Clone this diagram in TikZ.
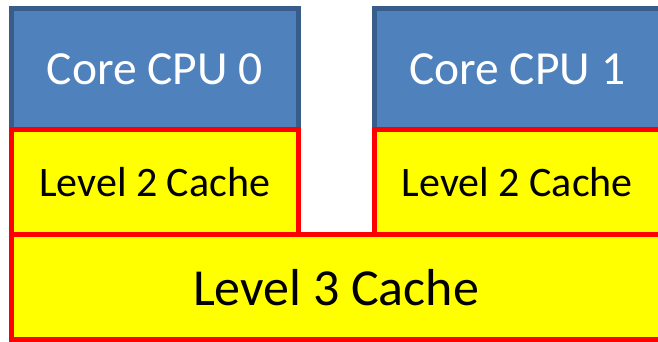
\documentclass[tikz,border=0pt]{standalone}
\usepackage{fontspec}
\setmainfont{Carlito}
\definecolor{coreblue}{HTML}{4F81BD}
\definecolor{coreedge}{HTML}{385D8A}
\definecolor{cachefill}{HTML}{FFFF00}
\definecolor{cacheedge}{HTML}{FF0000}
\begin{document}
\begin{tikzpicture}[x=1pt,y=1pt,
  block/.style={rectangle, line width=5pt, inner sep=0pt, outer sep=0pt, anchor=south west},
  corebox/.style={block, fill=coreblue, draw=coreedge, text=white, font=\fontsize{47.5}{50}\selectfont,
    minimum width=286.5pt, minimum height=121pt},
  ltwobox/.style={block, fill=cachefill, draw=cacheedge, text=black, font=\fontsize{42}{44}\selectfont,
    minimum width=286.5pt, minimum height=105pt},
  lthreebox/.style={block, fill=cachefill, draw=cacheedge, text=black, font=\fontsize{52}{54}\selectfont,
    minimum width=649pt, minimum height=105.5pt}]
  \useasboundingbox (0,0) rectangle (658,342);
  \clip (0,0) rectangle (658,342);
  \fill[white] (0,0) rectangle (658,342);
  % processor cores
  \node[corebox] (core0) at (11.5,212.5) {Core CPU 0};
  \node[corebox] (core1) at (374,212.5) {Core CPU 1};
  % private level 2 caches
  \node[ltwobox] (ltwo0) at (11.5,107.5) {Level 2 Cache};
  \node[ltwobox] (ltwo1) at (374,107.5) {Level 2 Cache};
  % shared level 3 cache
  \node[lthreebox] (lthree) at (11.5,2) {Level 3 Cache};
\end{tikzpicture}
\end{document}
